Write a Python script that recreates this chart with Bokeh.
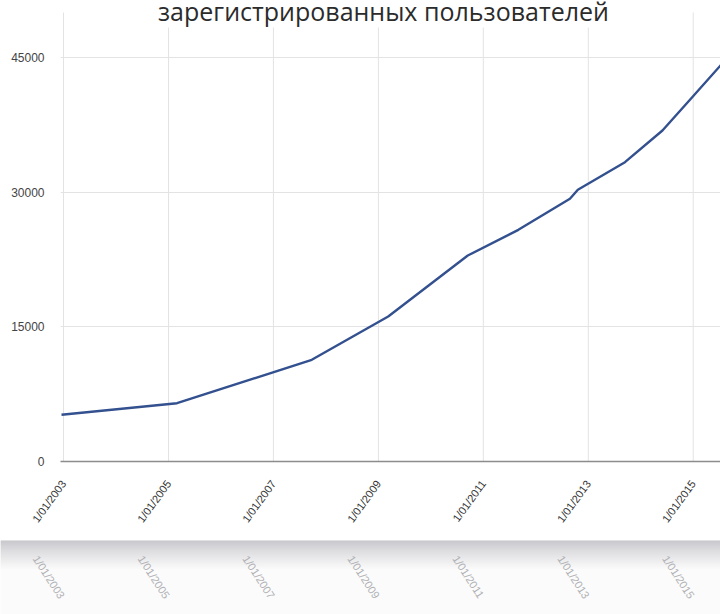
import numpy as np
import pandas as pd
from bokeh.plotting import figure
from bokeh.layouts import column, row
from bokeh.models import FixedTicker, Label, Range1d, CustomJSTickFormatter
from bokeh.core.properties import value
from bokeh.embed import file_html
from bokeh.resources import INLINE

# ---------------- data ----------------
title_text = "зарегистрированных пользователей"
dates = ["2002-12-18", "2005-03-01", "2007-09-25", "2009-03-10", "2010-09-15",
         "2011-09-02", "2012-08-26", "2012-10-20", "2013-09-13", "2014-06-01",
         "2014-12-25", "2015-07-10", "2015-12-01"]
users = [5200, 6490, 11325, 16150, 22940, 25800, 29250, 30260, 33330, 36860,
         40570, 44100, 46590]
tick_dates = ["2003-01-01", "2005-01-01", "2007-01-01", "2009-01-01",
              "2011-01-01", "2013-01-01", "2015-01-01"]
tick_labels = ["1/01/2003", "1/01/2005", "1/01/2007", "1/01/2009",
               "1/01/2011", "1/01/2013", "1/01/2015"]
y_ticks = [0, 15000, 30000, 45000]
x_start, x_end = "2002-12-11", "2015-07-10"
y_start, grid_top = 0, 50000

x = pd.to_datetime(dates)
ticks = pd.to_datetime(tick_dates)
ticks_ms = [int(t.value // 10**6) for t in ticks]
xs_ms = pd.Timestamp(x_start).value / 1e6
xe_ms = pd.Timestamp(x_end).value / 1e6

# ---------------- main figure ----------------
W = 720
LB, BB = 60, 79
plot_top = 12                      # px where the plot's grid begins
frame_w, frame_h = 660, 461
units_per_px = (grid_top - y_start) / (frame_h - plot_top)
y_end = grid_top + plot_top * units_per_px

p = figure(frame_width=frame_w, frame_height=frame_h, x_axis_type="datetime",
           x_range=Range1d(xs_ms, xe_ms), y_range=Range1d(y_start, y_end),
           output_backend="svg", toolbar_location=None,
           min_border_left=LB, min_border_right=0, min_border_top=0,
           min_border_bottom=BB)
p.outline_line_color = None
p.background_fill_color = "white"
p.border_fill_color = "white"

p.xaxis.ticker = FixedTicker(ticks=ticks_ms)
p.xaxis.formatter = CustomJSTickFormatter(code="""
    const d = new Date(tick);
    return (d.getUTCMonth() + 1) + "/" + String(d.getUTCDate()).padStart(2, "0") + "/" + d.getUTCFullYear();
""")
p.xaxis.major_label_orientation = np.deg2rad(54)
p.xaxis.axis_line_color = "#8c8c8c"
p.xaxis.axis_line_width = 1.5
p.xaxis.major_tick_line_color = None
p.xaxis.minor_tick_line_color = None
p.xaxis.major_label_standoff = 14
p.xaxis.major_label_text_font = "Liberation Sans"
p.xaxis.major_label_text_font_size = "11px"
p.xaxis.major_label_text_color = "#333333"

p.yaxis.ticker = FixedTicker(ticks=y_ticks)
p.yaxis.axis_line_color = None
p.yaxis.major_tick_line_color = None
p.yaxis.minor_tick_line_color = None
p.yaxis.major_label_standoff = 10
p.yaxis.major_label_text_font = "Liberation Sans"
p.yaxis.major_label_text_font_size = "12px"
p.yaxis.major_label_text_color = "#444444"

p.xgrid.visible = False
p.ygrid.ticker = FixedTicker(ticks=y_ticks)
p.ygrid.grid_line_color = "#e3e3e3"
p.ygrid.grid_line_width = 1
# vertical grid lines, from 0 up to the top of the grid
p.segment(x0=ticks, y0=y_start, x1=ticks, y1=grid_top,
          line_color="#e3e3e3", line_width=1)

p.line(x, users, line_color="#33508f", line_width=2.4)

# title (second line of a two-line title, the first is cut off)
title_y = y_end - 10 * units_per_px
p.add_layout(Label(x=383 - LB, x_units="screen", y=title_y, y_units="data",
                   text=title_text, text_align="center",
                   text_baseline="alphabetic", text_font="Open Sans",
                   text_font_size="25px", text_color="#2b2b2b",
                   background_fill_color="white", background_fill_alpha=1.0))

# ---------------- reflection strip ----------------
RH = 74
ms_per_px = (xe_ms - xs_ms) / frame_w
rs_ms = xs_ms - LB * ms_per_px
r = figure(frame_width=W, frame_height=RH, x_axis_type="datetime",
           x_range=Range1d(rs_ms, xe_ms), y_range=Range1d(0, RH),
           x_axis_location=None, y_axis_location=None,
           output_backend="svg", toolbar_location=None, min_border=0,
           min_border_left=0, min_border_right=0, min_border_top=0,
           min_border_bottom=0)
r.grid.visible = False
r.outline_line_color = None
r.background_fill_color = "#fbfbfb"
r.border_fill_color = "#fbfbfb"

n_bands = 30
c0 = np.array([0xc6, 0xc6, 0xcb])
c1 = np.array([0xfb, 0xfb, 0xfb])
tops, bottoms, cols = [], [], []
for i in range(n_bands):
    t = (i / (n_bands - 1)) ** 0.8
    c = (c0 + (c1 - c0) * t).astype(int)
    tops.append(RH - i + 0.6)
    bottoms.append(RH - i - 1)
    cols.append("#%02x%02x%02x" % tuple(c))
r.quad(left=rs_ms, right=xe_ms, top=tops, bottom=bottoms, fill_color=cols,
       line_color=None)

refl_x = [t - 28 * ms_per_px for t in ticks_ms]
r.text(x=refl_x, y=[RH - 16] * len(ticks), text=tick_labels,
       angle=-np.deg2rad(57), text_align="left",
       text_baseline="middle", text_font=value("Liberation Sans"),
       text_font_size="11px", text_color="#b0b0b4")

layout = column(row(p), row(r), spacing=0)
open("out.html", "w").write(file_html(layout, INLINE))
